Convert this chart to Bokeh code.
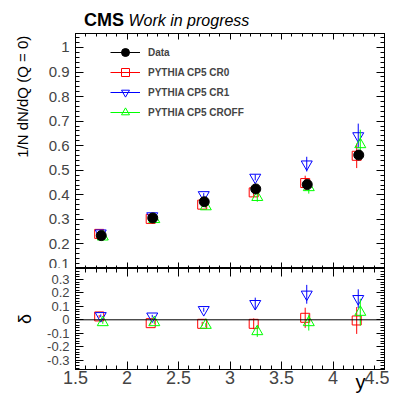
from bokeh.plotting import figure
from bokeh.models import (Range1d, LinearAxis, Span, Legend, LegendItem, Div, Title,
                          SingleIntervalTicker, ColumnDataSource, CustomJSTickFormatter)
from bokeh.layouts import column
from bokeh.embed import file_html
from bokeh.resources import INLINE

# ---------------- data ----------------
y_bins = [1.75, 2.25, 2.75, 3.25, 3.75, 4.25]

data_val = [0.234, 0.306, 0.372, 0.424, 0.442, 0.562]
data_err = [0.004, 0.005, 0.006, 0.008, 0.010, 0.015]

cr0_val = [0.241, 0.302, 0.360, 0.410, 0.448, 0.559]
cr0_err = [0.004, 0.005, 0.007, 0.018, 0.030, 0.050]

cr1_val = [0.244, 0.314, 0.400, 0.471, 0.525, 0.640]
cr1_err = [0.004, 0.005, 0.007, 0.012, 0.030, 0.050]

croff_val = [0.229, 0.300, 0.352, 0.390, 0.430, 0.605]
croff_err = [0.004, 0.005, 0.007, 0.018, 0.025, 0.060]

cr0_delta = [0.025, -0.025, -0.030, -0.030, 0.015, -0.005]
cr0_delta_err = [0.010, 0.010, 0.015, 0.040, 0.075, 0.100]

cr1_delta = [0.030, 0.027, 0.075, 0.120, 0.190, 0.157]
cr1_delta_err = [0.010, 0.010, 0.015, 0.045, 0.070, 0.070]

croff_delta = [-0.020, -0.020, -0.040, -0.087, -0.020, 0.057]
croff_delta_err = [0.010, 0.010, 0.015, 0.040, 0.060, 0.100]

labels = ["Data", "PYTHIA CP5 CR0", "PYTHIA CP5 CR1", "PYTHIA CP5 CROFF"]
y_title = "1/N dN/dQ (Q = 0)"
ratio_title = "δ"
x_title = "y"

# ---------------- style ----------------
FONT = "Liberation Sans"
RED, BLUE, GREEN = "#ff0000", "#0000ff", "#00ff00"
fmt = CustomJSTickFormatter(code="var v = Math.round(tick*10)/10; return v.toString();")
nofmt = CustomJSTickFormatter(code="return '';")


def style_axis(ax, labels_on, size, major_in, minor_in, ticker, standoff=4):
    ax.ticker = ticker
    ax.axis_line_color = "black"
    ax.major_tick_line_color = "black"
    ax.minor_tick_line_color = "black"
    ax.major_tick_in = major_in
    ax.major_tick_out = 0
    ax.minor_tick_in = minor_in
    ax.minor_tick_out = 0
    ax.major_label_text_font = FONT
    ax.axis_label_text_font = FONT
    ax.axis_label_text_font_style = "normal"
    ax.axis_label_text_color = "black"
    if labels_on:
        ax.formatter = fmt
        ax.major_label_text_font_size = size
        ax.major_label_standoff = standoff
    else:
        ax.formatter = nofmt
        ax.major_label_text_font_size = "0px"
        ax.major_label_standoff = 0


def make_fig(height, yr, border_top, border_bottom):
    p = figure(width=389, height=height, x_range=Range1d(1.5, 4.5), y_range=yr,
               output_backend="svg", toolbar_location=None,
               min_border_left=75, min_border_right=5,
               min_border_top=border_top, min_border_bottom=border_bottom,
               x_axis_location=None, y_axis_location=None)
    p.xgrid.visible = False
    p.ygrid.visible = False
    p.outline_line_color = "black"
    p.outline_line_width = 1
    p.background_fill_color = "white"
    p.border_fill_color = "white"
    return p


header = Div(text='<span style="font-weight:bold;font-size:18px">CMS</span>'
                  '<span style="font-style:italic;font-size:16px"> Work in progress</span>',
             width=389, height=33, margin=0,
             styles={"font-family": FONT, "padding-left": "84px", "padding-top": "8px",
                     "line-height": "24px", "color": "black", "white-space": "nowrap",
                     "box-sizing": "border-box"})

# ---------------- top panel ----------------
top = make_fig(235, Range1d(0.1, 1.057), 0, 0)
xt = lambda: SingleIntervalTicker(interval=0.5, num_minor_ticks=5)
yt = lambda: SingleIntervalTicker(interval=0.1, num_minor_ticks=5)

# the y title is pushed to the top end of the axis (ROOT style) with leading no-break spaces
ax = LinearAxis(axis_label="\u00a0" * 26 + y_title)
style_axis(ax, True, "15px", 8, 4, yt(), 6)
ax.axis_label_text_font_size = "15px"; ax.axis_label_standoff = 15
top.add_layout(ax, "left")
ax = LinearAxis(); style_axis(ax, False, "0px", 8, 4, yt()); top.add_layout(ax, "right")
ax = LinearAxis(); style_axis(ax, False, "0px", 6, 3, xt()); top.add_layout(ax, "above")
ax = LinearAxis(); style_axis(ax, False, "0px", 6, 3, xt()); top.add_layout(ax, "below")

series = [
    (cr0_val, cr0_err, -0.02, RED, "square", 9, False),
    (cr1_val, cr1_err, -0.005, BLUE, "inverted_triangle", 11, False),
    (croff_val, croff_err, 0.015, GREEN, "triangle", 11, False),
    (data_val, data_err, 0.0, "black", "circle", 10, True),
]
items = {}
for (vals, errs, dx, col, mk, sz, filled), lab in zip(series, labels[1:] + labels[:1]):
    xs = [b + dx for b in y_bins]
    src = ColumnDataSource(dict(x=xs, y=vals,
                                lo=[v - e for v, e in zip(vals, errs)],
                                hi=[v + e for v, e in zip(vals, errs)]))
    seg = top.segment(x0="x", y0="lo", x1="x", y1="hi", source=src, line_color=col, line_width=1)
    sc = top.scatter(x="x", y="y", source=src, marker=mk, size=sz, line_color=col, line_width=1,
                     fill_color=col if filled else None)
    items[lab] = [seg, sc]

legend = Legend(items=[LegendItem(label=l, renderers=items[l]) for l in labels],
                location=(35, 146), padding=0, margin=0, spacing=0,
                glyph_width=30, glyph_height=20, label_height=20, label_standoff=8,
                label_text_font=FONT, label_text_font_style="bold", label_text_font_size="10px",
                border_line_alpha=0, background_fill_alpha=0)
top.add_layout(legend, "center")

# ---------------- ratio panel ----------------
bot = make_fig(128, Range1d(-0.37, 0.382), 0, 27)
ax = LinearAxis(axis_label=ratio_title); style_axis(ax, True, "13px", 8, 4, yt(), 6)
ax.axis_label_text_font_size = "18px"; ax.axis_label_standoff = 9
bot.add_layout(ax, "left")
ax = LinearAxis(); style_axis(ax, False, "0px", 8, 4, yt()); bot.add_layout(ax, "right")
ax = LinearAxis(); style_axis(ax, False, "0px", 8, 4, xt()); bot.add_layout(ax, "above")
ax = LinearAxis(); style_axis(ax, True, "18px", 8, 4, xt(), 1)
bot.add_layout(ax, "below")
bot.add_layout(Title(text=x_title, align="right", vertical_align="top", standoff=-31, offset=19,
                     text_font=FONT, text_font_size="20px", text_font_style="normal",
                     text_color="black"), "below")

bot.add_layout(Span(location=0, dimension="width", line_color="black", line_width=1))

ratio_series = [
    (cr0_delta, cr0_delta_err, -0.02, RED, "square", 9),
    (cr1_delta, cr1_delta_err, -0.005, BLUE, "inverted_triangle", 11),
    (croff_delta, croff_delta_err, 0.015, GREEN, "triangle", 11),
]
for vals, errs, dx, col, mk, sz in ratio_series:
    xs = [b + dx for b in y_bins]
    src = ColumnDataSource(dict(x=xs, y=vals,
                                lo=[v - e for v, e in zip(vals, errs)],
                                hi=[v + e for v, e in zip(vals, errs)]))
    bot.segment(x0="x", y0="lo", x1="x", y1="hi", source=src, line_color=col, line_width=1)
    bot.scatter(x="x", y="y", source=src, marker=mk, size=sz, line_color=col, line_width=1,
                fill_color=None)

layout = column(header, top, bot, spacing=0)
open("out.html", "w").write(file_html(layout, INLINE))
